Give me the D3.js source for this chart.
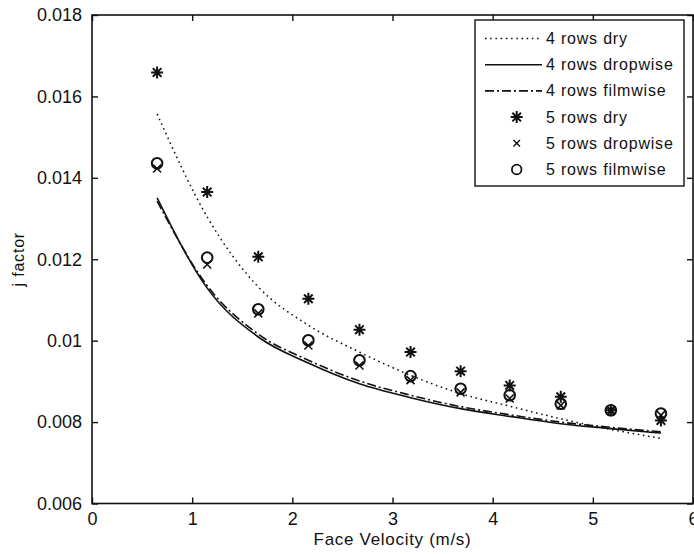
<!DOCTYPE html>
<html>
  <head>
    <title>j factor vs face velocity</title>
    <style>
      body { margin: 0; background: #fff; }
      text { font-family: "Liberation Sans", Arial, sans-serif; fill: #111; }
    </style>
  </head>
  <body>
    <svg width="694" height="554"></svg>
    <script src="https://d3js.org/d3.v7.min.js"></script>
    <script>

    // values
    var velocity = [0.65, 1.15, 1.66, 2.16, 2.67, 3.18, 3.68, 4.17, 4.68, 5.18, 5.68];

    var rows4Dry      = [0.01557, 0.01304, 0.01132, 0.01038, 0.00972, 0.00915, 0.00870, 0.00839, 0.00808, 0.00782, 0.00760];
    var rows4Dropwise = [0.01351, 0.01129, 0.01009, 0.00945, 0.00894, 0.00860, 0.00833, 0.00814, 0.00796, 0.00784, 0.00773];
    var rows4Filmwise = [0.01343, 0.01135, 0.01016, 0.00952, 0.00901, 0.00866, 0.00838, 0.00818, 0.00800, 0.00787, 0.00776];

    var rows5Dry      = [0.01659, 0.01365, 0.01206, 0.01103, 0.01027, 0.00972, 0.00925, 0.00890, 0.00862, 0.00829, 0.00804];
    var rows5Dropwise = [0.01423, 0.01187, 0.01067, 0.00988, 0.00939, 0.00903, 0.00873, 0.00858, 0.00841, 0.00827, 0.00817];
    var rows5Filmwise = [0.01436, 0.01204, 0.01077, 0.01001, 0.00952, 0.00913, 0.00882, 0.00866, 0.00845, 0.00829, 0.00821];

    var xTicks = [0, 1, 2, 3, 4, 5, 6];
    var yTicks = [0.006, 0.008, 0.01, 0.012, 0.014, 0.016, 0.018];

    var legendLabels = ["4 rows dry", "4 rows dropwise", "4 rows filmwise",
                        "5 rows dry", "5 rows dropwise", "5 rows filmwise"];

    var svg = d3.select("svg"),
        box = {left: 92, right: 693, top: 15, bottom: 503.5};

    var x = d3.scaleLinear().domain([0, 6]).range([box.left, box.right]);
    var y = d3.scaleLinear().domain([0.006, 0.018]).range([box.bottom, box.top]);

    var fmt = function(d) { return String(+d.toFixed(3)); };

    // axes, ticks inside the box (matlab style)
    svg.append("g")
        .attr("transform", "translate(0," + box.bottom + ")")
        .call(d3.axisBottom(x).tickValues(xTicks).tickSizeInner(-6).tickSizeOuter(0).tickPadding(8.7).tickFormat(fmt));
    svg.append("g")
        .attr("transform", "translate(" + box.left + ",0)")
        .call(d3.axisLeft(y).tickValues(yTicks).tickSizeInner(-6).tickSizeOuter(0).tickPadding(10).tickFormat(fmt));
    svg.append("g")
        .attr("transform", "translate(0," + box.top + ")")
        .call(d3.axisTop(x).tickValues(xTicks).tickSizeInner(-6).tickSizeOuter(0).tickFormat(""));
    svg.append("g")
        .attr("transform", "translate(" + box.right + ",0)")
        .call(d3.axisRight(y).tickValues(yTicks).tickSizeInner(-6).tickSizeOuter(0).tickFormat(""));

    svg.selectAll(".domain").remove();
    svg.selectAll(".tick line").attr("stroke", "#111").attr("stroke-width", 1.4);
    svg.selectAll(".tick text")
        .attr("font-size", 18)
        .attr("font-family", "'Liberation Sans', Arial, sans-serif")
        .attr("fill", "#111");

    svg.append("rect")
        .attr("x", box.left).attr("y", box.top)
        .attr("width", box.right - box.left).attr("height", box.bottom - box.top)
        .attr("fill", "none").attr("stroke", "#111").attr("stroke-width", 1.6);

    // axis titles
    svg.append("text")
        .attr("x", (box.left + box.right) / 2).attr("y", 545)
        .attr("text-anchor", "middle")
        .attr("font-size", 17).attr("letter-spacing", 0.7)
        .text("Face Velocity (m/s)");
    svg.append("text")
        .attr("transform", "translate(24," + ((box.top + box.bottom) / 2) + ") rotate(-90)")
        .attr("text-anchor", "middle")
        .attr("font-size", 16).attr("letter-spacing", 0.8)
        .text("j factor");

    // curves
    var lineStyles = [
      {data: rows4Dry, dash: "1.6,3.6", width: 1.5},
      {data: rows4Dropwise, dash: null, width: 1.6},
      {data: rows4Filmwise, dash: "9,3,2,3", width: 1.6}
    ];

    var line = d3.line()
        .x(function(d) { return x(d[0]); })
        .y(function(d) { return y(d[1]); })
        .curve(d3.curveMonotoneX);

    lineStyles.forEach(function(s) {
      svg.append("path")
          .attr("d", line(d3.zip(velocity, s.data)))
          .attr("fill", "none")
          .attr("stroke", "#111")
          .attr("stroke-width", s.width)
          .attr("stroke-dasharray", s.dash);
    });

    // marker shapes
    function star(cx, cy) {
      var a = 6, b = 4.3;
      return "M" + (cx - a) + "," + cy + "H" + (cx + a) +
             "M" + cx + "," + (cy - a) + "V" + (cy + a) +
             "M" + (cx - b) + "," + (cy - b) + "L" + (cx + b) + "," + (cy + b) +
             "M" + (cx - b) + "," + (cy + b) + "L" + (cx + b) + "," + (cy - b);
    }
    function cross(cx, cy, b) {
      return "M" + (cx - b) + "," + (cy - b) + "L" + (cx + b) + "," + (cy + b) +
             "M" + (cx - b) + "," + (cy + b) + "L" + (cx + b) + "," + (cy - b);
    }

    var pts = svg.append("g");
    pts.selectAll(null).data(d3.zip(velocity, rows5Dry)).enter().append("path")
        .attr("d", function(d) { return star(x(d[0]), y(d[1])); })
        .attr("stroke", "#111").attr("stroke-width", 2).attr("fill", "none");
    pts.selectAll(null).data(d3.zip(velocity, rows5Dropwise)).enter().append("path")
        .attr("d", function(d) { return cross(x(d[0]), y(d[1]), 4); })
        .attr("stroke", "#111").attr("stroke-width", 1.6).attr("fill", "none");
    pts.selectAll(null).data(d3.zip(velocity, rows5Filmwise)).enter().append("circle")
        .attr("cx", function(d) { return x(d[0]); })
        .attr("cy", function(d) { return y(d[1]); })
        .attr("r", 5.3)
        .attr("stroke", "#111").attr("stroke-width", 2).attr("fill", "none");

    // legend
    var lg = svg.append("g");
    lg.append("rect")
        .attr("x", 475).attr("y", 20).attr("width", 209).attr("height", 166)
        .attr("fill", "#fff").attr("stroke", "#111").attr("stroke-width", 1.4);

    legendLabels.forEach(function(label, i) {
      var cy = 38.5 + i * 26.2;
      lg.append("text")
          .attr("x", 546).attr("y", cy + 5.5)
          .attr("font-size", 16).attr("letter-spacing", 0.8)
          .text(label);
      if (i < 3) {
        lg.append("line")
            .attr("x1", 485).attr("x2", 542).attr("y1", cy).attr("y2", cy)
            .attr("stroke", "#111")
            .attr("stroke-width", lineStyles[i].width)
            .attr("stroke-dasharray", lineStyles[i].dash);
      } else if (i === 3) {
        lg.append("path").attr("d", star(516.7, cy)).attr("stroke", "#111").attr("stroke-width", 2).attr("fill", "none");
      } else if (i === 4) {
        lg.append("path").attr("d", cross(516.7, cy, 3.3)).attr("stroke", "#111").attr("stroke-width", 1.4).attr("fill", "none");
      } else {
        lg.append("circle").attr("cx", 516.7).attr("cy", cy).attr("r", 4.8)
            .attr("stroke", "#111").attr("stroke-width", 1.8).attr("fill", "none");
      }
    });

    </script>
  </body>
</html>
